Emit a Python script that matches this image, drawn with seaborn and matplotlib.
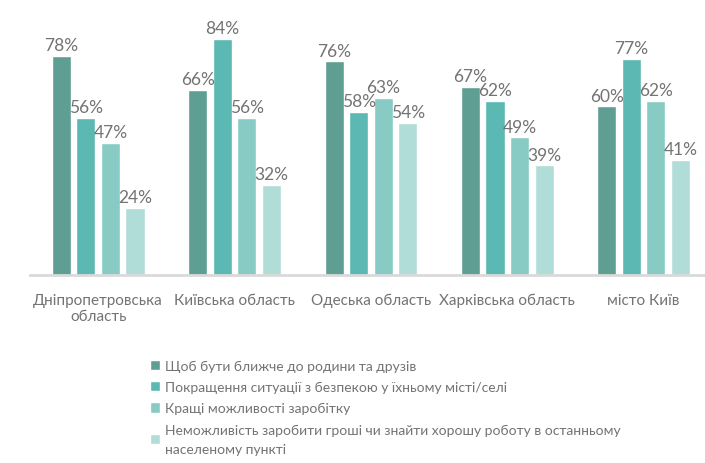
import matplotlib
matplotlib.use("Agg")
import matplotlib.pyplot as plt
import seaborn as sns
import pandas as pd

# data
regions = ["Дніпропетровська\nобласть", "Київська область", "Одеська область",
           "Харківська область", "місто Київ"]
reasons = [
    "Щоб бути ближче до родини та друзів",
    "Покращення ситуації з безпекою у їхньому місті/селі",
    "Кращі можливості заробітку",
    "Неможливість заробити гроші чи знайти хорошу роботу в останньому\nнаселеному пункті",
]
closer_to_family = [78, 66, 76, 67, 60]
better_security = [56, 84, 58, 62, 77]
better_earnings = [47, 56, 63, 49, 62]
no_work_locally = [24, 32, 54, 39, 41]

colors = ["#5f9f93", "#5cb8b2", "#87cbc4", "#b1ddd9"]
text_color = "#737373"

rows = []
for reason, vals in zip(reasons, [closer_to_family, better_security,
                                  better_earnings, no_work_locally]):
    for region, v in zip(regions, vals):
        rows.append({"region": region, "reason": reason, "value": v})
df = pd.DataFrame(rows)

sns.set_theme(style="white")
plt.rcParams["font.family"] = ["Lato", "DejaVu Sans"]

fig = plt.figure(figsize=(7.05, 4.64), dpi=100)
ax = fig.add_axes([30 / 705, 1 - 276 / 464, 1 - 30 / 705, 276 / 464])

sns.barplot(data=df, x="region", y="value", hue="reason", order=regions,
            hue_order=reasons, palette=colors, width=0.72, gap=0.22,
            edgecolor="white", linewidth=1, saturation=1, ax=ax, legend=True)

for cont in ax.containers:
    ax.bar_label(cont, fmt="{:.0f}%", padding=2, fontsize=12.5, color=text_color)

ax.set_xlim(-0.5, 4.45)
ax.set_ylim(0, 98.2)
ax.set_xlabel("")
ax.set_ylabel("")
ax.set_yticks([])
ax.tick_params(axis="x", length=0, pad=13, labelsize=11, labelcolor=text_color)
for side in ["top", "right", "left"]:
    ax.spines[side].set_visible(False)
ax.spines["bottom"].set_color("#d9d9d9")
ax.spines["bottom"].set_linewidth(2)

handles, labels = ax.get_legend_handles_labels()
ax.get_legend().remove()
leg = fig.legend(handles, labels, loc="upper left",
                 bbox_to_anchor=(143 / 705, 1 - 354 / 464), frameon=False,
                 fontsize=10, handlelength=0.75, handleheight=0.75,
                 handletextpad=0.3, labelspacing=0.65, borderpad=0)
for t in leg.get_texts():
    t.set_color(text_color)
    t.set_linespacing(1.75)

fig.savefig("out.png", dpi=100)
